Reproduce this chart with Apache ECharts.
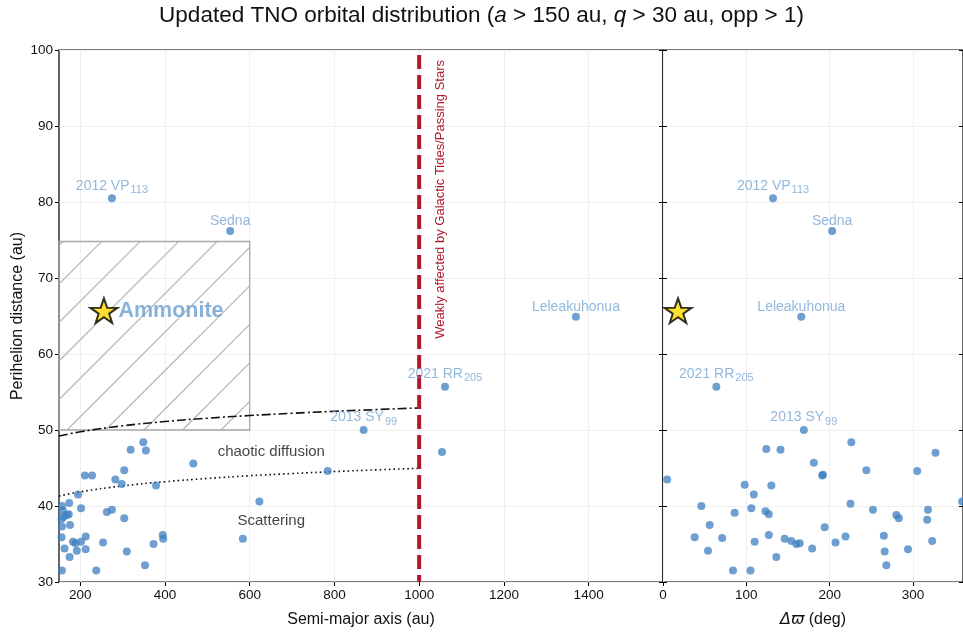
<!DOCTYPE html>
<html><head><meta charset="utf-8">
<script src="https://cdn.jsdelivr.net/npm/echarts@6/dist/echarts.min.js"></script>
<style>html,body{margin:0;padding:0;background:#fff}#c{width:963px;height:634px}</style>
</head><body><div id="c"></div>
<script>
// ---------------- data ----------------
// Left panel: semi-major axis a (au) vs perihelion q (au), unlabeled objects
const leftA = [349, 319, 355, 467, 304, 211, 228, 283, 298, 379, 195, 174, 202, 275, 263, 304, 176, 213, 395, 396,
  254, 373, 584, 163, 192, 213, 310, 175, 353, 238, 157, 183, 202, 157, 159, 169, 161, 173, 156, 157, 156, 189,
  784, 623, 1054];
const leftQ = [48.4, 47.4, 47.3, 45.6, 44.7, 44.0, 44.0, 43.5, 42.9, 42.7, 41.5, 40.4, 39.7, 39.5, 39.2, 38.4, 37.5, 36.0, 36.2, 35.7,
  35.2, 35.0, 35.7, 34.4, 34.1, 34.3, 34.0, 33.3, 32.2, 31.5, 31.5, 35.3, 35.3, 40.0, 39.4, 38.8, 38.6, 38.9, 38.3, 37.3, 35.9, 35.1,
  44.6, 40.6, 47.1];
// Right panel: delta varpi (deg) vs perihelion q (au), unlabeled objects
const rightVarpi = [5, 98, 130, 109, 46, 106, 86, 123, 127, 56, 38, 71, 127, 110, 146, 154, 160, 164, 54, 136, 84, 105,
  124, 141, 226, 327, 181, 191, 192, 244, 305, 359, 225, 252, 318, 280, 283, 317, 194, 219, 207, 179, 265, 323, 266, 294, 268];
const rightQ = [43.5, 42.8, 42.7, 41.5, 40.0, 39.7, 39.1, 39.3, 38.9, 37.5, 35.9, 35.8, 36.2, 35.3, 35.7, 35.4, 35.0, 35.1, 34.1, 33.3, 31.5, 31.5,
  47.5, 47.4, 48.4, 47.0, 45.7, 44.0, 44.1, 44.7, 44.6, 40.6, 40.3, 39.5, 39.5, 38.8, 38.4, 38.2, 37.2, 36.0, 35.2, 34.4, 36.1, 35.4, 34.0, 34.3, 32.2];
// Named objects
const namedMain = ['2012 VP', 'Sedna', 'Leleakuhonua', '2021 RR', '2013 SY'];
const namedSub = ['113', '', '', '205', '99'];
const namedA = [275, 554, 1370, 1061, 869];
const namedQ = [80.5, 76.2, 64.9, 55.7, 50.0];
const namedVarpi = [132, 203, 166, 64, 169];
// Ammonite
const ammName = 'Ammonite';
const ammA = 256, ammQ = 65.7, ammVarpi = 18;
// Hatched box (a range, q range)
const boxA = [150, 600];
const boxQ = [50, 74.8];
// Boundary curves
const curveA = [150, 200, 300, 400, 500, 600, 700, 800, 900, 1000];
const dashDotQ = [49.2, 49.76, 50.55, 51.11, 51.55, 51.9, 52.2, 52.46, 52.69, 52.9];
const dottedQ = [41.3, 41.86, 42.64, 43.19, 43.62, 43.98, 44.27, 44.53, 44.76, 44.96];
// Galactic tides boundary
const tidesA = 1000;
const tidesQRange = [100, 30];
const tidesText = 'Weakly affected by Galactic Tides/Passing Stars';
// Region annotations
const regionTexts = ['chaotic diffusion', 'Scattering'];
const regionA = [651, 651];
const regionQ = [47.1, 38.0];
// Axes
const aMin = 150, aMax = 1575.5;
const aTicks = [200, 400, 600, 800, 1000, 1200, 1400];
const qMin = 30, qMax = 100, qStep = 10;
const varpiMin = 0, varpiMax = 360, varpiStep = 100;
const titleParts = ['Updated TNO orbital distribution (', 'a', ' > 150 au, ', 'q', ' > 30 au, opp > 1)'];

// ---------------- chart ----------------
const FONT = '"Liberation Sans", Arial, Helvetica, sans-serif';
const PT_COLOR = '#3d7fc0';
const LBL_COLOR = '#6c9fd0';
const RED = '#b2182b';
const GRIDC = '#efefef';
const STAR = 'path://M50,0 L61.8,35.1 L98.1,35.1 L68.8,56.7 L79.4,91 L50,70 L20.6,91 L31.2,56.7 L1.9,35.1 L38.2,35.1 Z';

const zip = (xs, ys) => xs.map((x, i) => [x, ys[i]]);
const nameRich = {
  n: {fontSize: 14, color: LBL_COLOR, fontFamily: FONT},
  s: {fontSize: 11, color: LBL_COLOR, fontFamily: FONT, padding: [8, 0, 0, 1]}
};
const nameFmt = p => `{n|${namedMain[p.dataIndex]}}` + (namedSub[p.dataIndex] ? `{s|${namedSub[p.dataIndex]}}` : '');
const ptStyle = {color: PT_COLOR, opacity: 0.75};

const chart = echarts.init(document.getElementById('c'), null, {renderer: 'canvas'});

const axisLabelStyle = {color: '#111', fontSize: 13.5, fontFamily: FONT, formatter: v => String(v)};

const option = {
  animation: false,
  backgroundColor: '#fff',
  title: {
    text: `{t|${titleParts[0]}}{i|${titleParts[1]}}{t|${titleParts[2]}}{i|${titleParts[3]}}{t|${titleParts[4]}}`,
    left: 'center', top: -1,
    textStyle: {
      fontWeight: 'normal',
      rich: {
        t: {fontSize: 22.5, fontFamily: FONT, color: '#111', fontWeight: 'normal'},
        i: {fontSize: 22.5, fontFamily: FONT, color: '#111', fontStyle: 'italic', fontWeight: 'normal'}
      }
    }
  },
  grid: [
    {left: 59, top: 50, width: 604, height: 532, show: true, borderColor: '#000', borderWidth: 1.2, backgroundColor: 'transparent', outerBoundsMode: 'none', containLabel: false},
    {left: 663, top: 50, width: 300, height: 532, show: true, borderColor: '#000', borderWidth: 1.2, backgroundColor: 'transparent', outerBoundsMode: 'none', containLabel: false}
  ],
  xAxis: [
    {
      gridIndex: 0, type: 'value', min: aMin, max: aMax,
      name: 'Semi-major axis (au)', nameLocation: 'middle', nameGap: 30, nameMoveOverlap: false,
      nameTextStyle: {fontSize: 16, fontFamily: FONT, color: '#111'},
      axisLine: {show: false},
      axisTick: {show: true, customValues: aTicks, length: 4, lineStyle: {color: '#000'}},
      axisLabel: Object.assign({customValues: aTicks, margin: 6}, axisLabelStyle),
      splitLine: {show: true, lineStyle: {color: GRIDC, width: 1}}
    },
    {
      gridIndex: 1, type: 'value', min: varpiMin, max: varpiMax, interval: varpiStep,
      name: '{i|Δϖ} (deg)', nameLocation: 'middle', nameGap: 30, nameMoveOverlap: false,
      nameTextStyle: {fontSize: 16, fontFamily: FONT, color: '#111', rich: {i: {fontSize: 16, fontStyle: 'italic', fontFamily: '"DejaVu Sans", ' + FONT, color: '#111'}}},
      axisLine: {show: false},
      axisTick: {show: true, length: 4, lineStyle: {color: '#000'}},
      axisLabel: Object.assign({margin: 6, showMaxLabel: false}, axisLabelStyle),
      splitLine: {show: true, lineStyle: {color: GRIDC, width: 1}}
    }
  ],
  yAxis: [
    {
      gridIndex: 0, type: 'value', min: qMin, max: qMax, interval: qStep,
      name: 'Perihelion distance (au)', nameLocation: 'middle', nameGap: 33, nameMoveOverlap: false,
      nameTextStyle: {fontSize: 16, fontFamily: FONT, color: '#111'},
      axisLine: {show: false},
      axisTick: {show: true, length: 4, lineStyle: {color: '#000'}},
      axisLabel: Object.assign({margin: 6}, axisLabelStyle),
      splitLine: {show: true, lineStyle: {color: GRIDC, width: 1}}
    },
    {
      gridIndex: 1, type: 'value', min: qMin, max: qMax, interval: qStep,
      axisLine: {show: false},
      axisTick: {show: true, length: 4, lineStyle: {color: '#000'}},
      axisLabel: {show: false},
      splitLine: {show: true, lineStyle: {color: GRIDC, width: 1}}
    },
    {
      gridIndex: 0, type: 'value', min: qMin, max: qMax, interval: qStep, position: 'right',
      axisLine: {show: false},
      axisTick: {show: true, length: 4, lineStyle: {color: '#000'}},
      axisLabel: {show: false}, splitLine: {show: false}
    },
    {
      gridIndex: 1, type: 'value', min: qMin, max: qMax, interval: qStep, position: 'right',
      axisLine: {show: false},
      axisTick: {show: true, inside: true, length: 4, lineStyle: {color: '#000'}},
      axisLabel: {show: false}, splitLine: {show: false}
    }
  ],
  series: [
    {
      type: 'custom', xAxisIndex: 0, yAxisIndex: 0, z: 1, silent: true,
      data: [[boxA[0], boxQ[0], boxA[1], boxQ[1]]],
      encode: {x: [0, 2], y: [1, 3]},
      renderItem: (params, api) => {
        const p0 = api.coord([api.value(0), api.value(3)]);
        const p1 = api.coord([api.value(2), api.value(1)]);
        const x0 = p0[0], y0 = p0[1], x1 = p1[0], y1 = p1[1];
        const children = [];
        const step = 38.5;
        const phase = 343;
        let c = phase - Math.ceil((phase - (x0 + y0)) / step) * step;
        for (; c <= x1 + y1; c += step) {
          const xs = Math.max(x0, c - y1), xe = Math.min(x1, c - y0);
          if (xe > xs) children.push({type: 'line', shape: {x1: xs, y1: c - xs, x2: xe, y2: c - xe}, style: {stroke: '#b3b3b3', lineWidth: 1.1}});
        }
        children.push({type: 'rect', shape: {x: x0, y: y0, width: x1 - x0, height: y1 - y0}, style: {fill: 'none', stroke: '#a8a8a8', lineWidth: 1.3}});
        return {type: 'group', children};
      }
    },
    {
      type: 'line', xAxisIndex: 0, yAxisIndex: 0, z: 3, smooth: true, symbol: 'none', silent: true,
      data: zip(curveA, dashDotQ),
      lineStyle: {color: '#111', width: 1.6, type: [9, 3, 2, 3]}
    },
    {
      type: 'line', xAxisIndex: 0, yAxisIndex: 0, z: 3, smooth: true, symbol: 'none', silent: true,
      data: zip(curveA, dottedQ),
      lineStyle: {color: '#111', width: 1.6, type: [1.6, 3]}
    },
    {
      type: 'line', xAxisIndex: 0, yAxisIndex: 0, z: 4, symbol: 'none', silent: true,
      data: [[tidesA, tidesQRange[0]], [tidesA, tidesQRange[1]]],
      lineStyle: {color: RED, width: 4, type: [14, 6], dashOffset: -5}
    },
    {
      type: 'scatter', xAxisIndex: 0, yAxisIndex: 0, z: 5, symbolSize: 8,
      data: zip(leftA, leftQ), itemStyle: ptStyle
    },
    {
      type: 'scatter', xAxisIndex: 0, yAxisIndex: 0, z: 5, symbolSize: 8,
      data: zip(namedA, namedQ), itemStyle: ptStyle,
      label: {show: true, position: 'top', distance: -1, formatter: nameFmt, rich: nameRich}
    },
    {
      type: 'scatter', xAxisIndex: 1, yAxisIndex: 1, z: 5, symbolSize: 8,
      data: zip(rightVarpi, rightQ), itemStyle: ptStyle
    },
    {
      type: 'scatter', xAxisIndex: 1, yAxisIndex: 1, z: 5, symbolSize: 8,
      data: zip(namedVarpi, namedQ), itemStyle: ptStyle,
      label: {show: true, position: 'top', distance: -1, formatter: nameFmt, rich: nameRich}
    },
    {
      type: 'scatter', xAxisIndex: 0, yAxisIndex: 0, z: 6, symbol: STAR, symbolSize: [27, 26], symbolKeepAspect: true,
      data: [[ammA, ammQ]],
      itemStyle: {color: '#ffd700', borderColor: '#000', borderWidth: 2},
      label: {show: true, position: 'right', distance: 0, formatter: ammName, fontSize: 21.5, fontWeight: 'bold', color: LBL_COLOR, fontFamily: FONT}
    },
    {
      type: 'scatter', xAxisIndex: 1, yAxisIndex: 1, z: 6, symbol: STAR, symbolSize: [27, 26], symbolKeepAspect: true,
      data: [[ammVarpi, ammQ]],
      itemStyle: {color: '#ffd700', borderColor: '#000', borderWidth: 2}
    },
    {
      type: 'scatter', xAxisIndex: 0, yAxisIndex: 0, z: 6, symbolSize: 0, silent: true,
      data: zip(regionA, regionQ),
      label: {show: true, position: 'inside', formatter: p => regionTexts[p.dataIndex], fontSize: 15, color: '#111', fontFamily: FONT}
    }
  ]
};
chart.setOption(option);

// rotated annotation next to the tides line
const tp = chart.convertToPixel({xAxisIndex: 0, yAxisIndex: 0}, [tidesA, tidesQRange[0]]);
chart.setOption({
  graphic: [{
    type: 'text', x: tp[0] + 21, y: tp[1] + 10, rotation: Math.PI / 2, z: 10,
    style: {text: tidesText, fill: RED, fontSize: 13, fontFamily: FONT, align: 'right', verticalAlign: 'middle'}
  }]
});
</script>
</body></html>
